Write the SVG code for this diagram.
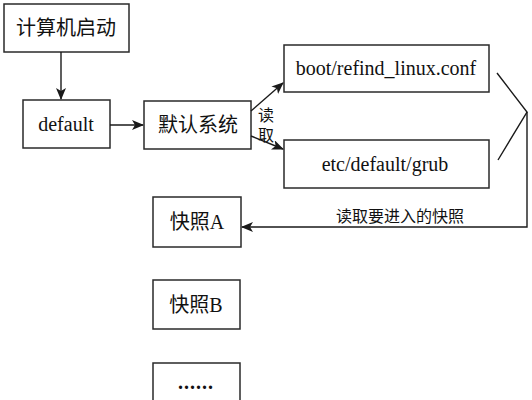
<svg xmlns="http://www.w3.org/2000/svg" width="532" height="400" viewBox="0 0 532 400">
<defs>
<marker id="ah" viewBox="0 0 12 10" refX="11" refY="5" markerWidth="12" markerHeight="10" markerUnits="userSpaceOnUse" orient="auto">
<path d="M0,0 L12,5 L0,10 L3,5 Z" fill="#1a1a1a"/>
</marker>
<style>
.box{fill:#fff;stroke:#2a2a2a;stroke-width:1.5}
.t{font-family:"Liberation Serif","Noto Sans CJK SC",serif;font-size:20px;fill:#111;text-anchor:middle;dominant-baseline:central}
.s{font-family:"Liberation Serif","Noto Sans CJK SC",serif;font-size:16px;fill:#111;text-anchor:middle;dominant-baseline:central}
.c{fill:none;stroke:#1a1a1a;stroke-width:1.4}
</style>
</defs>
<rect width="532" height="400" fill="#fff"/>
<g id="start"><rect class="box" x="4" y="4" width="125" height="48"/><text class="t" x="66" y="28">计算机启动</text></g>
<g id="default"><rect class="box" x="23" y="100" width="87" height="48"/><text class="t" x="66" y="124" font-size="21">default</text></g>
<g id="defsys"><rect class="box" x="144" y="101" width="107" height="48"/><text class="t" x="198" y="125">默认系统</text></g>
<g id="refind"><rect class="box" x="284" y="45" width="205" height="47"/><text class="t" x="386" y="68">boot/refind_linux.conf</text></g>
<g id="grub"><rect class="box" x="284" y="140" width="205" height="48"/><text class="t" x="385" y="164">etc/default/grub</text></g>
<g id="snapA"><rect class="box" x="153" y="197" width="88" height="50"/><text class="t" x="197" y="222">快照A</text></g>
<g id="snapB"><rect class="box" x="153" y="280" width="87" height="49"/><text class="t" x="196" y="305">快照B</text></g>
<g id="more"><rect class="box" x="153" y="363" width="87" height="52"/><text class="t" x="196" y="382" font-weight="bold" letter-spacing="1">......</text></g>
<g id="connectors">
<line class="c" x1="61" y1="52" x2="61" y2="99" marker-end="url(#ah)"/>
<line class="c" x1="110" y1="125" x2="143" y2="125" marker-end="url(#ah)"/>
<line class="c" x1="251" y1="111" x2="283" y2="83" marker-end="url(#ah)"/>
<line class="c" x1="251" y1="136" x2="283" y2="149" marker-end="url(#ah)"/>
<polyline class="c" points="497,73 527,112 498,160"/>
<polyline class="c" points="527,112 527,227 242,227" marker-end="url(#ah)"/>
<text class="s" x="266" y="115">读</text>
<text class="s" x="266" y="135">取</text>
<text class="s" x="400" y="216" font-size="17">读取要进入的快照</text>
</g>
</svg>
